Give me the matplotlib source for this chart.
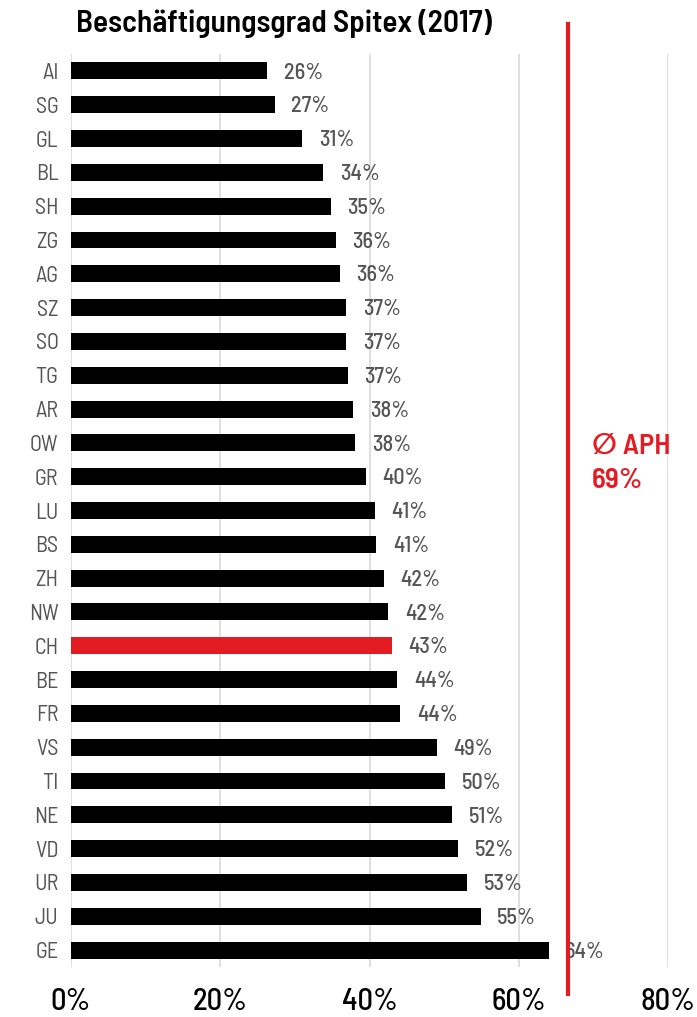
import matplotlib
matplotlib.use('Agg')
import matplotlib.pyplot as plt
from matplotlib import font_manager

kantone = ['AI', 'SG', 'GL', 'BL', 'SH', 'ZG', 'AG', 'SZ', 'SO', 'TG', 'AR', 'OW', 'GR', 'LU',
           'BS', 'ZH', 'NW', 'CH', 'BE', 'FR', 'VS', 'TI', 'NE', 'VD', 'UR', 'JU', 'GE']
werte = [26.3, 27.3, 31.0, 33.8, 34.8, 35.5, 36.0, 36.9, 36.9, 37.1, 37.8, 38.1, 39.5, 40.7,
         40.9, 41.9, 42.5, 43.0, 43.7, 44.1, 49.0, 50.1, 51.1, 51.9, 53.1, 54.9, 64.0]
labels = ['26%', '27%', '31%', '34%', '35%', '36%', '36%', '37%', '37%', '37%', '38%', '38%',
          '40%', '41%', '41%', '42%', '42%', '43%', '44%', '44%', '49%', '50%', '51%', '52%',
          '53%', '55%', '64%']
aph_linie = 66.6
aph_text = '\u2205 APH\n69%'
x_ticks = [0, 20, 40, 60, 80]
x_ticklabels = ['0%', '20%', '40%', '60%', '80%']

names = {f.name for f in font_manager.fontManager.ttflist}
fam = [f for f in ['Barlow Semi Condensed', 'Roboto Condensed', 'DejaVu Sans'] if f in names]
plt.rcParams['font.family'] = fam

rot = '#e31b23'
grau = '#555555'

fig = plt.figure(figsize=(6.97, 10.17), dpi=100)
ax = fig.add_axes([71 / 697, 1 - 967 / 1017, (668 - 71) / 697, (967 - 54) / 1017])

ypos = list(range(len(kantone)))
farben = [rot if k == 'CH' else 'black' for k in kantone]
ax.barh(ypos, werte, height=0.5, color=farben, zorder=3)

for y, w, l in zip(ypos, werte, labels):
    ax.annotate(l, (w, y + 0.05), xytext=(12, 0), textcoords='offset points',
                va='center', ha='left', fontsize=16, color=grau, fontweight='medium')

ax.set_xlim(0, 80)
ax.set_ylim(len(kantone) - 0.5, -0.5)
ax.set_yticks(ypos)
ax.set_yticklabels(kantone, fontsize=16, color=grau)
ax.set_xticks(x_ticks)
ax.set_xticklabels(x_ticklabels, fontsize=22, fontweight='medium')
ax.tick_params(axis='both', length=0)
ax.tick_params(axis='x', pad=15)
ax.tick_params(axis='y', pad=9)
for s in ax.spines.values():
    s.set_visible(False)
ax.grid(axis='x', color='#d9d9d9', linewidth=1.2, zorder=0)

# APH Durchschnitt
ax.plot([aph_linie, aph_linie], [-1.4, 27.3], color=rot, linewidth=3, clip_on=False, zorder=4)
ax.text(aph_linie + 3.2, 11.6, aph_text, color=rot, fontsize=21, fontweight='semibold',
        va='center', ha='left', linespacing=1.45)

fig.text(76 / 697, 1 - 24 / 1017, 'Beschäftigungsgrad Spitex (2017)', fontsize=22.5,
         fontweight='semibold', va='center', ha='left')

plt.savefig('out.png', dpi=100)
